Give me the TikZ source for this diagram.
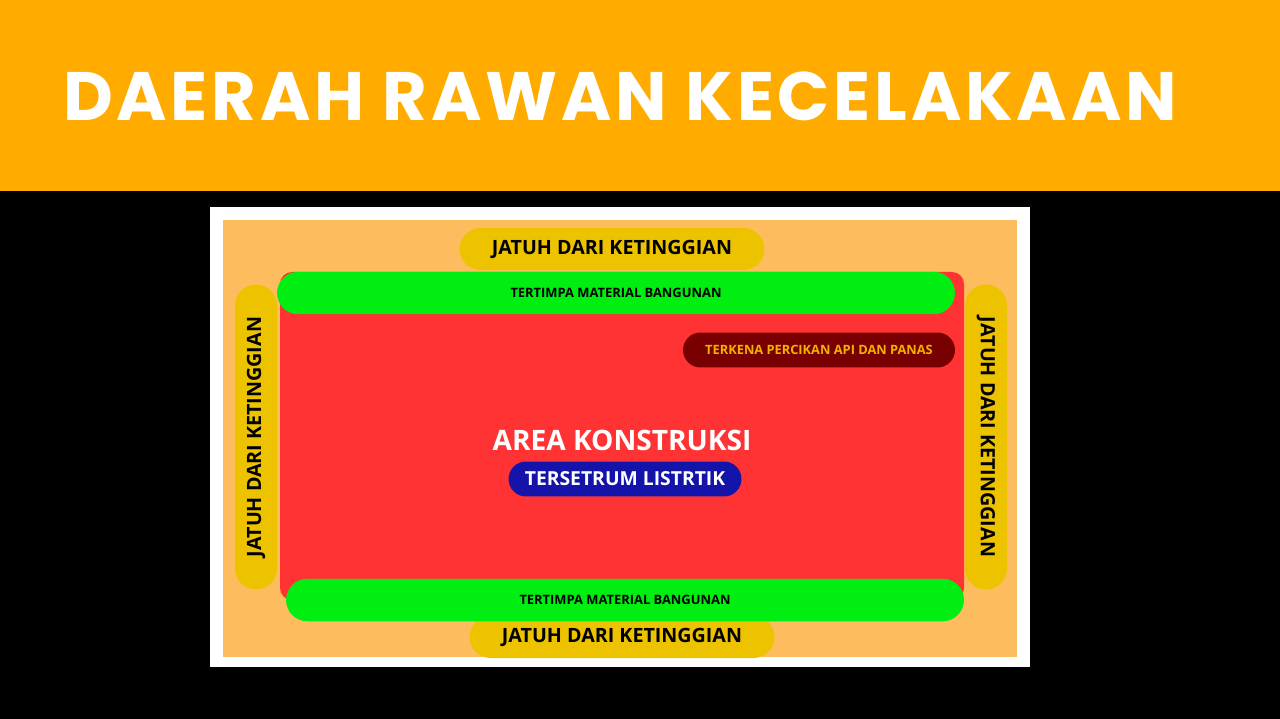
\documentclass[tikz,border=0pt]{standalone}
\usepackage{fontspec}
\setmainfont{Open Sans}
\newfontfamily\titlefont{Poppins}[LetterSpace=5.5]

\definecolor{header}{HTML}{FFAB00}
\definecolor{sand}{HTML}{FDBD5E}
\definecolor{site}{HTML}{FF3333}
\definecolor{lime}{HTML}{00EE11}
\definecolor{mustard}{HTML}{EDC300}
\definecolor{maroon}{HTML}{780000}
\definecolor{amber}{HTML}{F2B200}
\definecolor{navy}{HTML}{1414AA}

\begin{document}
\begin{tikzpicture}[x=0.02cm, y=-0.02cm,
    pill/.style={inner sep=0pt, font=\bfseries},
    fall/.style={pill, fill=mustard, minimum width=6.1cm, minimum height=0.84cm,
        rounded corners=0.42cm, font=\bfseries\fontsize{11.2}{12}\selectfont},
    debris/.style={pill, fill=lime, minimum width=13.56cm, minimum height=0.85cm,
        rounded corners=0.425cm, font=\bfseries\fontsize{7.35}{8}\selectfont}]

    % Latar dan kepala
    \useasboundingbox (0,0) rectangle (1280,719);
    \fill[black] (0,0) rectangle (1280,719);
    \fill[header] (0,0) rectangle (1280,191);
    \node[text=white, font=\titlefont\bfseries\fontsize{39}{42}\selectfont] (title) at (620,96) {DAERAH RAWAN KECELAKAAN};

    % Bingkai denah
    \fill[white] (210,207) rectangle (1030,667);
    \fill[sand] (223,220) rectangle (1017,657);

    % Jatuh dari ketinggian di keempat sisi
    \node[fall] (fallTop) at (612,249) {JATUH DARI KETINGGIAN};
    \node[fall] (fallBottom) at (622,637) {JATUH DARI KETINGGIAN};
    \node[fall, rotate=90] (fallLeft) at (256,437) {JATUH DARI KETINGGIAN};
    \node[fall, rotate=-90] (fallRight) at (986,437) {JATUH DARI KETINGGIAN};

    % Area konstruksi
    \fill[site, rounded corners=0.24cm] (280,272) rectangle (964,600);
    \node[text=white, font=\bfseries\fontsize{16}{18}\selectfont] (area) at (622,440) {AREA KONSTRUKSI};

    % Tertimpa material
    \node[debris] (debrisTop) at (616,293) {TERTIMPA MATERIAL BANGUNAN};
    \node[debris] (debrisBottom) at (625,600) {TERTIMPA MATERIAL BANGUNAN};

    % Percikan api dan sengatan listrik
    \node[pill, fill=maroon, text=amber, minimum width=5.44cm, minimum height=0.7cm,
        rounded corners=0.35cm, font=\bfseries\fontsize{7.3}{8}\selectfont] (sparks) at (819,350) {TERKENA PERCIKAN API DAN PANAS};
    \node[pill, fill=navy, text=white, minimum width=4.66cm, minimum height=0.7cm,
        rounded corners=0.35cm, font=\bfseries\fontsize{11}{12}\selectfont] (shock) at (625,479) {TERSETRUM LISTRTIK};

\end{tikzpicture}
\end{document}
